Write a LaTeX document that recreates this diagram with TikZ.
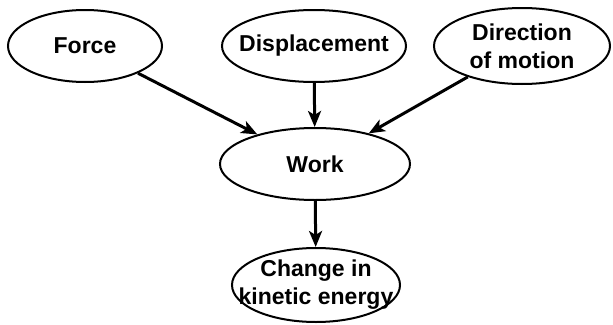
\documentclass[tikz,border=0pt]{standalone}
\usepackage{fontspec}
\setmainfont{Liberation Sans}
\usetikzlibrary{shapes.geometric,arrows.meta}
\tikzset{
  ell/.style={draw,ellipse,line width=2pt,inner xsep=-30pt,inner ysep=-10pt,minimum height=72pt,
    align=center,font=\fontsize{23}{28}\selectfont\bfseries},
  arr/.style={line width=3pt,-{Stealth[length=16pt,width=13pt,inset=4pt]}}
}
\begin{document}
\begin{tikzpicture}[x=1pt,y=-1pt]
\useasboundingbox (0,0) rectangle (613,324);

\node[ell,minimum width=154pt] (force) at (85,46) {Force};
\node[ell,minimum width=184pt] (disp) at (314,46) {Displacement};
\node[ell,minimum width=176pt,minimum height=76pt] (dir) at (522,46) {Direction\\of motion};
\node[ell,minimum width=190pt] (work) at (315,164) {Work};
\node[ell,minimum width=168pt,minimum height=74pt] (ke) at (316,285) {Change in\\kinetic energy};

\draw[arr] (force) -- (work);
\draw[arr] (disp) -- (work);
\draw[arr] (dir) -- (work);
\draw[arr] (work) -- (ke);
\end{tikzpicture}
\end{document}
